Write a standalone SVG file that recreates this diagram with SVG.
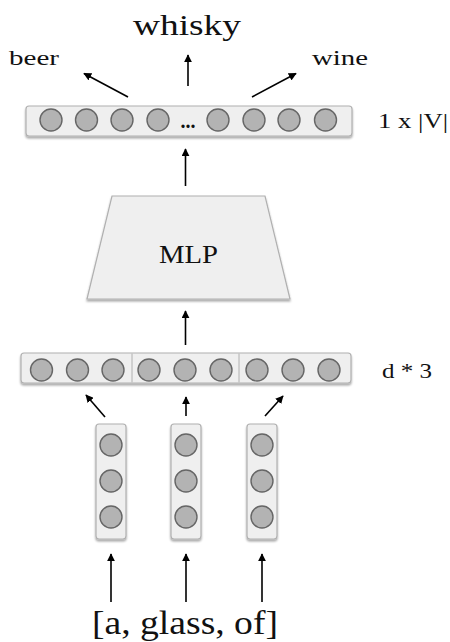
<svg xmlns="http://www.w3.org/2000/svg" width="450" height="642" viewBox="0 0 450 642">
  <style>
    .box { fill: #efefef; stroke: #b0b0b0; stroke-width: 1.2; filter: url(#shadow); }
    .unit { fill: #b3b3b3; stroke: #666; stroke-width: 1.4; }
    .sep { stroke: #b0b0b0; stroke-width: 1; }
    .lbl { font-family: "Liberation Serif", "DejaVu Serif", serif; fill: #111; }
    .edge { stroke: #000; stroke-width: 1.6; fill: none; marker-end: url(#head); }
  </style>
  <defs>
    <filter id="shadow" x="-10%" y="-20%" width="120%" height="160%">
      <feGaussianBlur in="SourceAlpha" stdDeviation="1.2"/>
      <feOffset dx="0" dy="2" result="b"/>
      <feComponentTransfer><feFuncA type="linear" slope="0.35"/></feComponentTransfer>
      <feMerge><feMergeNode/><feMergeNode in="SourceGraphic"/></feMerge>
    </filter>
    <marker id="head" viewBox="0 0 10 10" refX="9" refY="5" markerWidth="5" markerHeight="5" orient="auto" markerUnits="strokeWidth">
      <path d="M0,0 L10,5 L0,10 z" fill="#000"/>
    </marker>
  </defs>

  <!-- output words -->
  <g id="out-words">
    <text class="lbl" x="133" y="35" font-size="30" textLength="108" lengthAdjust="spacingAndGlyphs">whisky</text>
    <text class="lbl" x="9" y="65" font-size="22" textLength="50" lengthAdjust="spacingAndGlyphs">beer</text>
    <text class="lbl" x="312" y="65" font-size="22" textLength="56" lengthAdjust="spacingAndGlyphs">wine</text>
  </g>

  <!-- output layer, vocabulary size -->
  <g id="output-layer">
    <rect class="box" x="26" y="106" width="326" height="30" rx="3"/>
    <circle class="unit" cx="51" cy="120" r="11"/>
    <circle class="unit" cx="86.5" cy="120" r="11"/>
    <circle class="unit" cx="122" cy="120" r="11"/>
    <circle class="unit" cx="158" cy="120" r="11"/>
    <text class="lbl" x="188" y="128" font-size="20" font-weight="bold" text-anchor="middle">...</text>
    <circle class="unit" cx="218" cy="120" r="11"/>
    <circle class="unit" cx="254" cy="120" r="11"/>
    <circle class="unit" cx="289" cy="120" r="11"/>
    <circle class="unit" cx="325.5" cy="120" r="11"/>
    <text class="lbl" x="378" y="128" font-size="21" textLength="70" lengthAdjust="spacingAndGlyphs">1 x |V|</text>
  </g>

  <!-- multilayer perceptron -->
  <g id="mlp">
    <polygon class="box" points="112,196 265,196 290,299 87,299"/>
    <text class="lbl" x="188.5" y="263" font-size="26" text-anchor="middle" textLength="59" lengthAdjust="spacingAndGlyphs">MLP</text>
  </g>

  <!-- concatenated embeddings -->
  <g id="concat-layer">
    <rect class="box" x="21" y="353" width="330" height="30" rx="3"/>
    <line class="sep" x1="132" y1="353.6" x2="132" y2="382.4"/>
    <line class="sep" x1="239" y1="353.6" x2="239" y2="382.4"/>
    <circle class="unit" cx="41.5" cy="370" r="11"/>
    <circle class="unit" cx="77.5" cy="370" r="11"/>
    <circle class="unit" cx="113" cy="370" r="11"/>
    <circle class="unit" cx="149" cy="370" r="11"/>
    <circle class="unit" cx="185" cy="370" r="11"/>
    <circle class="unit" cx="221" cy="370" r="11"/>
    <circle class="unit" cx="257" cy="370" r="11"/>
    <circle class="unit" cx="293" cy="370" r="11"/>
    <circle class="unit" cx="329" cy="370" r="11"/>
    <text class="lbl" x="382" y="378" font-size="21" textLength="50" lengthAdjust="spacingAndGlyphs">d * 3</text>
  </g>

  <!-- word embeddings -->
  <g id="emb-a">
    <rect class="box" x="96" y="424" width="30" height="115" rx="3"/>
    <circle class="unit" cx="111" cy="445" r="11"/>
    <circle class="unit" cx="111" cy="481" r="11"/>
    <circle class="unit" cx="111" cy="517" r="11"/>
  </g>
  <g id="emb-glass">
    <rect class="box" x="171" y="424" width="30" height="115" rx="3"/>
    <circle class="unit" cx="186" cy="445" r="11"/>
    <circle class="unit" cx="186" cy="481" r="11"/>
    <circle class="unit" cx="186" cy="517" r="11"/>
  </g>
  <g id="emb-of">
    <rect class="box" x="247" y="424" width="30" height="115" rx="3"/>
    <circle class="unit" cx="262" cy="445" r="11"/>
    <circle class="unit" cx="262" cy="481" r="11"/>
    <circle class="unit" cx="262" cy="517" r="11"/>
  </g>

  <!-- input context -->
  <g id="context">
    <text class="lbl" x="92" y="634" font-size="34" textLength="186" lengthAdjust="spacingAndGlyphs">[a, glass, of]</text>
  </g>

  <!-- connectors -->
  <g id="edges">
    <line class="edge" x1="128" y1="97" x2="84" y2="73.5"/>
    <line class="edge" x1="188" y1="86" x2="188" y2="55"/>
    <line class="edge" x1="252" y1="97" x2="296" y2="73.5"/>
    <line class="edge" x1="185.5" y1="186" x2="185.5" y2="149"/>
    <line class="edge" x1="185.5" y1="345" x2="185.5" y2="311"/>
    <line class="edge" x1="105" y1="417" x2="86" y2="395"/>
    <line class="edge" x1="186" y1="416" x2="186" y2="397"/>
    <line class="edge" x1="265" y1="416" x2="283" y2="396"/>
    <line class="edge" x1="111" y1="602" x2="111" y2="554"/>
    <line class="edge" x1="186" y1="602" x2="186" y2="554"/>
    <line class="edge" x1="262" y1="602" x2="262" y2="554"/>
  </g>
</svg>
